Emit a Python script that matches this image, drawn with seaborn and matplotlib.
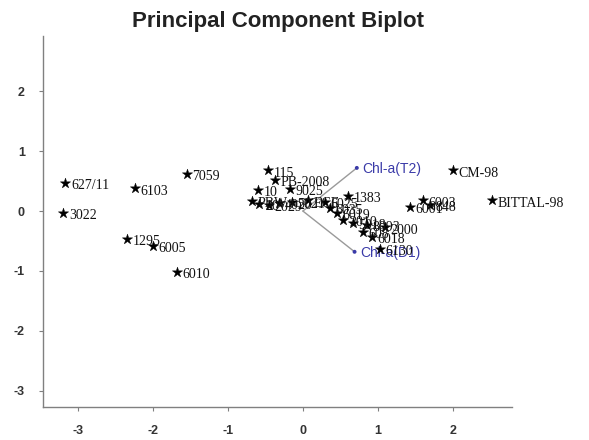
import seaborn as sns
import numpy as np
import pandas as pd
import matplotlib.pyplot as plt

# genotype scores on the first two principal components
genotypes = ["627/11", "3022", "6103", "1295", "6005", "6010", "7059",
             "115", "PB-2008", "10", "9025", "PBW", "20", "2029", "4020", "5021",
             "ECF", "1383", "6025", "6035", "6019", "2010", "5018", "8093", "608",
             "2000", "6018", "6130", "6003", "6001", "848", "CM-98", "BITTAL-98"]
pc1 = [-3.17, -3.20, -2.24, -2.35, -2.00, -1.68, -1.55,
       -0.47, -0.37, -0.60, -0.17, -0.68, -0.58, -0.45, -0.32, -0.15,
       0.07, 0.60, 0.29, 0.36, 0.45, 0.54, 0.67, 0.85, 0.80,
       1.10, 0.92, 1.03, 1.60, 1.43, 1.70, 2.00, 2.52]
pc2 = [0.47, -0.03, 0.38, -0.47, -0.58, -1.02, 0.62,
       0.68, 0.52, 0.35, 0.37, 0.17, 0.12, 0.10, 0.14, 0.15,
       0.18, 0.25, 0.15, 0.05, -0.03, -0.15, -0.20, -0.23, -0.35,
       -0.27, -0.43, -0.63, 0.18, 0.07, 0.10, 0.68, 0.18]

# variable loadings (arrows)
variables = ["Chl-a(T2)", "Chl-a(D1)"]
load1 = [0.72, 0.69]
load2 = [0.72, -0.68]

x_ticks = [-3, -2, -1, 0, 1, 2]
y_ticks = [-3, -2, -1, 0, 1, 2]

scores = pd.DataFrame({"genotype": genotypes, "PC1": pc1, "PC2": pc2})
loads = pd.DataFrame({"var": variables, "PC1": load1, "PC2": load2})

sns.set_style("ticks")
plt.rcParams["axes.unicode_minus"] = False
fig = plt.figure(figsize=(5.89, 4.4), dpi=100)
ax = fig.add_axes([0.073, 0.075, 0.796, 0.843])

# loading arrows from the origin
for _, r in loads.iterrows():
    ax.plot([0, r["PC1"]], [0, r["PC2"]], color="#9a9a9a", lw=1.0, zorder=1)
sns.scatterplot(data=loads, x="PC1", y="PC2", color="#3a3aa8", s=8,
                edgecolor="none", ax=ax, zorder=2)
for _, r in loads.iterrows():
    ax.annotate(r["var"], (r["PC1"], r["PC2"]), xytext=(4, -1),
                textcoords="offset points", va="center", ha="left",
                color="#3a3aa8", fontsize=10, family="Liberation Sans")

# genotype scores
sns.scatterplot(data=scores, x="PC1", y="PC2", marker="*", color="black",
                s=60, edgecolor="black", linewidth=0.3, ax=ax, zorder=3)
for _, r in scores.iterrows():
    ax.annotate(r["genotype"], (r["PC1"], r["PC2"]), xytext=(4, -2),
                textcoords="offset points", va="center", ha="left",
                color="#111111", fontsize=10, family="Liberation Serif")

ax.set_xlim(-3.47, 2.79)
ax.set_ylim(-3.27, 2.92)
ax.set_xticks(x_ticks)
ax.set_yticks(y_ticks)
ax.set_xlabel("")
ax.set_ylabel("")
ax.tick_params(length=3, width=0.8, color="#808080", pad=10,
               labelsize=9, labelcolor="#333333")
for lab in ax.get_xticklabels() + ax.get_yticklabels():
    lab.set_fontweight("bold")
    lab.set_family("Liberation Sans")
for s in ["top", "right"]:
    ax.spines[s].set_visible(False)
for s in ["left", "bottom"]:
    ax.spines[s].set_color("#808080")
    ax.spines[s].set_linewidth(1.0)

fig.text(0.472, 0.95, "Principal Component Biplot", ha="center", va="center",
         fontsize=16, fontweight="bold", family="Liberation Sans", color="#222222")

fig.savefig("out.png", dpi=100)
